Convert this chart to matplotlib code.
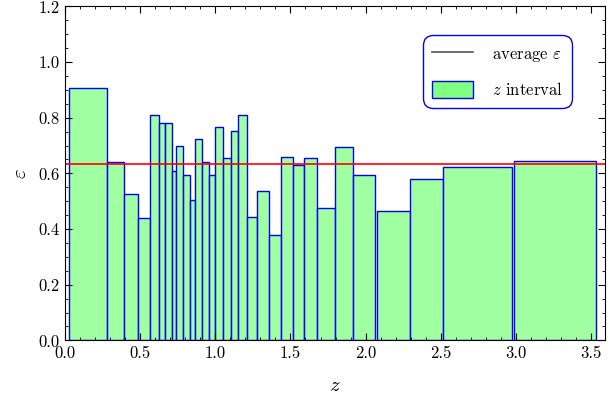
import matplotlib
matplotlib.use("Agg")
import matplotlib.pyplot as plt
from matplotlib.lines import Line2D
from matplotlib.patches import Patch
from matplotlib.ticker import MultipleLocator

# z-interval edges (left, right) and mean epsilon per interval
z_left = [0.031, 0.282, 0.397, 0.488, 0.566, 0.630, 0.665, 0.710, 0.741, 0.783,
          0.834, 0.868, 0.912, 0.956, 1.001, 1.054, 1.104, 1.154, 1.211, 1.277,
          1.357, 1.437, 1.520, 1.593, 1.677, 1.799, 1.919, 2.078, 2.295, 2.511, 2.983]
z_right = [0.282, 0.397, 0.488, 0.566, 0.630, 0.665, 0.710, 0.741, 0.783, 0.834,
           0.868, 0.912, 0.956, 1.001, 1.054, 1.104, 1.154, 1.211, 1.277, 1.357,
           1.437, 1.520, 1.593, 1.677, 1.799, 1.919, 2.065, 2.295, 2.511, 2.972, 3.531]
eps = [0.907, 0.640, 0.525, 0.438, 0.810, 0.782, 0.782, 0.610, 0.697, 0.594,
       0.504, 0.725, 0.642, 0.594, 0.768, 0.655, 0.754, 0.810, 0.443, 0.537,
       0.378, 0.660, 0.631, 0.655, 0.474, 0.696, 0.596, 0.466, 0.581, 0.622, 0.646]
eps_avg = 0.633

plt.rcParams["font.family"] = "serif"
plt.rcParams["font.serif"] = ["cmr10", "DejaVu Serif"]
plt.rcParams["mathtext.fontset"] = "cm"
plt.rcParams["axes.formatter.use_mathtext"] = True
plt.rcParams["font.size"] = 12

fig = plt.figure(figsize=(6.16, 4.0), dpi=100)
ax = fig.add_axes([0.105, 0.149, 0.877, 0.835])

widths = [r - l for l, r in zip(z_left, z_right)]
ax.bar(z_left, eps, width=widths, align="edge",
       facecolor=(0.5, 1.0, 0.5, 0.75), edgecolor="blue", linewidth=1.0)
ax.axhline(eps_avg, color="red", lw=1.2)

ax.set_xlim(0, 3.59)
ax.set_ylim(0, 1.2)
ax.xaxis.set_major_locator(MultipleLocator(0.5))
ax.xaxis.set_minor_locator(MultipleLocator(0.1))
ax.yaxis.set_major_locator(MultipleLocator(0.2))
ax.yaxis.set_minor_locator(MultipleLocator(0.05))
ax.tick_params(which="both", direction="in", top=True, right=True)
ax.tick_params(which="major", length=5)
ax.tick_params(which="minor", length=2.5)
ax.set_xticklabels([f"{v:.1f}" for v in ax.get_xticks()])
ax.set_yticklabels([f"{v:.1f}" for v in ax.get_yticks()])

ax.set_xlabel(r"$z$", fontsize=15, labelpad=12)
ax.set_ylabel(r"$\varepsilon$", fontsize=15, labelpad=6)

handles = [Line2D([0], [0], color="#555555", lw=1.2),
           Patch(facecolor="#80ff80", edgecolor="blue")]
leg = ax.legend(handles, [r"average $\varepsilon$", r"$z$ interval"],
                loc="upper right", bbox_to_anchor=(0.939, 0.913), fontsize=12,
                fancybox=True, edgecolor="blue", framealpha=1,
                borderpad=0.55, labelspacing=1.0, handlelength=2.5,
                handleheight=1.26, handletextpad=1.1, borderaxespad=0)
leg.get_frame().set_linewidth(1.0)
leg.get_frame().set_boxstyle("round,pad=0,rounding_size=0.6")

fig.savefig("out.png", dpi=100)
